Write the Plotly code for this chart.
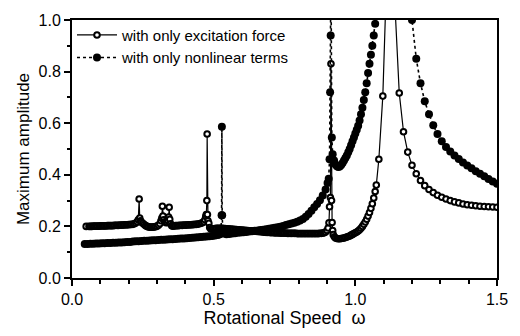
import plotly.graph_objects as go

# ---- data ----
x_ticks = [0.0, 0.5, 1.0, 1.5]
y_ticks = [0.0, 0.2, 0.4, 0.6, 0.8, 1.0]

exc_name = "with only excitation force"
nl_name = "with only nonlinear terms"

exc_w = [
    0.050, 0.060, 0.065, 0.070, 0.075, 0.080, 0.085, 0.090, 0.095, 0.100,
    0.105, 0.110, 0.115, 0.120, 0.125, 0.130, 0.135, 0.140, 0.145, 0.150,
    0.155, 0.160, 0.165, 0.170, 0.175, 0.180, 0.185, 0.190, 0.195, 0.200,
    0.205, 0.210, 0.215, 0.220, 0.225, 0.230, 0.234, 0.237, 0.239, 0.242,
    0.245, 0.250, 0.255, 0.260, 0.265, 0.270, 0.275, 0.280, 0.285, 0.290,
    0.295, 0.300, 0.305, 0.310, 0.314, 0.317, 0.319, 0.321, 0.324, 0.328,
    0.332, 0.336, 0.339, 0.341, 0.343, 0.345, 0.348, 0.352, 0.356, 0.360,
    0.365, 0.370, 0.375, 0.380, 0.385, 0.390, 0.395, 0.400, 0.405, 0.410,
    0.415, 0.420, 0.425, 0.430, 0.435, 0.440, 0.445, 0.450, 0.455, 0.460,
    0.465, 0.469, 0.472, 0.474, 0.476, 0.477, 0.478, 0.480, 0.483, 0.486,
    0.490, 0.495, 0.500, 0.505, 0.510, 0.515, 0.520, 0.525, 0.530, 0.535,
    0.540, 0.545, 0.550, 0.555, 0.560, 0.565, 0.570, 0.575, 0.580, 0.585,
    0.590, 0.595, 0.600, 0.605, 0.610, 0.615, 0.620, 0.625, 0.630, 0.635,
    0.640, 0.645, 0.650, 0.655, 0.660, 0.665, 0.670, 0.675, 0.680, 0.685,
    0.690, 0.695, 0.700, 0.705, 0.710, 0.715, 0.720, 0.725, 0.730, 0.735,
    0.740, 0.745, 0.750, 0.755, 0.760, 0.765, 0.770, 0.775, 0.780, 0.785,
    0.790, 0.795, 0.800, 0.805, 0.810, 0.815, 0.820, 0.825, 0.830, 0.835,
    0.840, 0.845, 0.850, 0.855, 0.860, 0.865, 0.870, 0.875, 0.880, 0.885,
    0.890, 0.895, 0.900, 0.904, 0.907, 0.909, 0.912, 0.914, 0.916, 0.918,
    0.920, 0.922, 0.926, 0.930, 0.935, 0.940, 0.945, 0.950, 0.955, 0.960,
    0.965, 0.970, 0.975, 0.980, 0.985, 0.990, 0.995, 1.000, 1.005, 1.010,
    1.015, 1.020, 1.025, 1.030, 1.035, 1.040, 1.045, 1.050, 1.055, 1.060,
    1.065, 1.070, 1.074, 1.083, 1.097, 1.120, 1.155, 1.170, 1.185, 1.200,
    1.215, 1.230, 1.245, 1.260, 1.275, 1.290, 1.305, 1.320, 1.335, 1.350,
    1.365, 1.380, 1.395, 1.410, 1.425, 1.440, 1.455, 1.470, 1.485, 1.500,
]
exc_a = [
    0.200, 0.200, 0.200, 0.200, 0.201, 0.201, 0.201, 0.201, 0.201, 0.202,
    0.202, 0.202, 0.202, 0.202, 0.203, 0.203, 0.203, 0.203, 0.203, 0.204,
    0.204, 0.204, 0.204, 0.205, 0.205, 0.205, 0.206, 0.206, 0.206, 0.207,
    0.207, 0.208, 0.208, 0.210, 0.213, 0.218, 0.226, 0.306, 0.232, 0.222,
    0.216, 0.212, 0.207, 0.203, 0.200, 0.198, 0.197, 0.197, 0.197, 0.198,
    0.199, 0.201, 0.204, 0.210, 0.222, 0.232, 0.278, 0.240, 0.226, 0.218,
    0.214, 0.215, 0.222, 0.236, 0.274, 0.228, 0.210, 0.203, 0.201, 0.202,
    0.203, 0.203, 0.203, 0.204, 0.204, 0.204, 0.205, 0.205, 0.205, 0.206,
    0.206, 0.206, 0.207, 0.207, 0.208, 0.208, 0.209, 0.210, 0.212, 0.214,
    0.218, 0.226, 0.238, 0.246, 0.300, 0.558, 0.246, 0.222, 0.212, 0.196,
    0.190, 0.190, 0.191, 0.192, 0.193, 0.193, 0.193, 0.193, 0.193, 0.192,
    0.192, 0.191, 0.191, 0.190, 0.190, 0.189, 0.189, 0.188, 0.188, 0.187,
    0.187, 0.186, 0.186, 0.185, 0.185, 0.184, 0.184, 0.183, 0.183, 0.182,
    0.182, 0.181, 0.181, 0.180, 0.180, 0.179, 0.179, 0.178, 0.178, 0.177,
    0.177, 0.177, 0.176, 0.176, 0.176, 0.175, 0.175, 0.175, 0.175, 0.174,
    0.174, 0.174, 0.174, 0.174, 0.173, 0.173, 0.173, 0.173, 0.173, 0.173,
    0.173, 0.172, 0.172, 0.172, 0.172, 0.172, 0.172, 0.172, 0.172, 0.172,
    0.172, 0.172, 0.172, 0.172, 0.172, 0.172, 0.172, 0.173, 0.173, 0.174,
    0.175, 0.178, 0.184, 0.194, 0.214, 0.276, 0.312, 0.830, 0.300, 0.215,
    0.184, 0.168, 0.160, 0.155, 0.153, 0.152, 0.152, 0.153, 0.154, 0.155,
    0.157, 0.159, 0.161, 0.163, 0.166, 0.169, 0.172, 0.175, 0.178, 0.182,
    0.187, 0.193, 0.200, 0.208, 0.217, 0.228, 0.240, 0.254, 0.270, 0.288,
    0.310, 0.335, 0.360, 0.460, 0.705, 1.500, 0.717, 0.567, 0.488, 0.437,
    0.404, 0.378, 0.358, 0.343, 0.331, 0.321, 0.313, 0.306, 0.300, 0.295,
    0.291, 0.287, 0.284, 0.282, 0.280, 0.278, 0.277, 0.276, 0.275, 0.274,
]

nl_w = [
    0.045, 0.055, 0.065, 0.075, 0.085, 0.095, 0.105, 0.115, 0.125, 0.135,
    0.145, 0.155, 0.165, 0.175, 0.185, 0.195, 0.205, 0.215, 0.225, 0.235,
    0.245, 0.255, 0.265, 0.275, 0.285, 0.295, 0.305, 0.315, 0.325, 0.335,
    0.345, 0.355, 0.365, 0.375, 0.385, 0.395, 0.405, 0.415, 0.425, 0.435,
    0.445, 0.455, 0.465, 0.475, 0.485, 0.495, 0.505, 0.515, 0.522, 0.526,
    0.528, 0.529, 0.530, 0.532, 0.536, 0.545, 0.555, 0.565, 0.575, 0.585,
    0.595, 0.605, 0.615, 0.625, 0.635, 0.645, 0.655, 0.665, 0.675, 0.685,
    0.695, 0.705, 0.715, 0.725, 0.735, 0.745, 0.755, 0.765, 0.775, 0.785,
    0.795, 0.805, 0.815, 0.825, 0.835, 0.845, 0.855, 0.865, 0.875, 0.885,
    0.895, 0.902, 0.906, 0.909, 0.911, 0.913, 0.914, 0.917, 0.920, 0.925,
    0.930, 0.935, 0.940, 0.945, 0.950, 0.955, 0.960, 0.965, 0.970, 0.975,
    0.980, 0.985, 0.990, 0.995, 1.000, 1.005, 1.010, 1.015, 1.020, 1.025,
    1.030, 1.035, 1.040, 1.045, 1.050, 1.055, 1.060, 1.065, 1.070, 1.075,
    1.190, 1.200, 1.215, 1.230, 1.245, 1.260, 1.275, 1.290, 1.305, 1.320,
    1.335, 1.350, 1.365, 1.380, 1.395, 1.410, 1.425, 1.440, 1.455, 1.470,
    1.485, 1.500,
]
nl_a = [
    0.132, 0.132, 0.133, 0.133, 0.134, 0.134, 0.135, 0.135, 0.136, 0.136,
    0.137, 0.137, 0.138, 0.138, 0.139, 0.140, 0.140, 0.141, 0.142, 0.142,
    0.143, 0.144, 0.144, 0.145, 0.146, 0.146, 0.147, 0.148, 0.148, 0.149,
    0.150, 0.150, 0.151, 0.152, 0.153, 0.153, 0.154, 0.155, 0.156, 0.157,
    0.158, 0.159, 0.160, 0.161, 0.162, 0.163, 0.165, 0.167, 0.170, 0.190,
    0.243, 0.586, 0.243, 0.190, 0.172, 0.170, 0.171, 0.172, 0.173, 0.175,
    0.176, 0.177, 0.178, 0.180, 0.181, 0.183, 0.184, 0.186, 0.187, 0.189,
    0.191, 0.193, 0.195, 0.197, 0.199, 0.202, 0.205, 0.208, 0.211, 0.214,
    0.218, 0.223, 0.229, 0.237, 0.248, 0.261, 0.274, 0.287, 0.301, 0.320,
    0.343, 0.368, 0.385, 0.460, 0.720, 0.940, 1.200, 0.545, 0.480, 0.455,
    0.440, 0.433, 0.430, 0.432, 0.438, 0.446, 0.455, 0.465, 0.475, 0.487,
    0.500, 0.515, 0.530, 0.545, 0.560, 0.575, 0.590, 0.610, 0.635, 0.660,
    0.690, 0.720, 0.755, 0.795, 0.830, 0.865, 0.900, 0.940, 0.985, 1.200,
    1.200, 1.000, 0.850, 0.755, 0.685, 0.635, 0.592, 0.558, 0.530, 0.508,
    0.490, 0.475, 0.461, 0.448, 0.436, 0.425, 0.414, 0.404, 0.394, 0.384,
    0.374, 0.365,
]

FONT = "Liberation Sans, Arial, Helvetica, sans-serif"

fig = go.Figure()
fig.add_trace(go.Scatter(
    x=exc_w, y=exc_a, name=exc_name, mode="lines+markers",
    line=dict(color="black", width=1.2),
    marker=dict(symbol="circle", size=5.6, color="white",
                line=dict(color="black", width=2.0)),
))
fig.add_trace(go.Scatter(
    x=nl_w, y=nl_a, name=nl_name, mode="lines+markers",
    line=dict(color="black", width=1.6, dash="dot"),
    marker=dict(symbol="circle", size=8, color="black",
                line=dict(width=0)),
))

axis_common = dict(
    showline=True, linecolor="black", linewidth=2, mirror=True,
    showgrid=False, zeroline=False,
    ticks="outside", ticklen=6, tickwidth=1.5, tickcolor="black",
    tickfont=dict(family=FONT, size=16, color="black"),
)

fig.update_xaxes(
    range=[0, 1.5],
    tickvals=x_ticks, ticktext=[f"{v:.1f}" for v in x_ticks],
    minor=dict(dtick=0.1, tick0=0, ticks="outside", ticklen=3.5,
               tickwidth=1.5, tickcolor="black"),
    title=dict(text="Rotational Speed  ω", font=dict(family=FONT, size=18, color="black"),
               standoff=3),
    **axis_common,
)
fig.update_yaxes(
    range=[0, 1.0],
    tickvals=y_ticks, ticktext=[f"{v:.1f}" for v in y_ticks],
    minor=dict(dtick=0.1, tick0=0, ticks="outside", ticklen=3.5,
               tickwidth=1.5, tickcolor="black"),
    title=dict(text="Maximum amplitude", font=dict(family=FONT, size=17, color="black"),
               standoff=5),
    **axis_common,
)

fig.update_layout(
    width=520, height=336,
    margin=dict(l=72, r=20, t=13, b=51),
    paper_bgcolor="white", plot_bgcolor="white",
    font=dict(family=FONT, color="black"),
    showlegend=True,
    legend=dict(x=0.0, y=1.005, xanchor="left", yanchor="top",
                bgcolor="rgba(0,0,0,0)", borderwidth=0,
                font=dict(family=FONT, size=15, color="black"),
                tracegroupgap=0, itemwidth=40),
)

fig.write_html("out.html")
